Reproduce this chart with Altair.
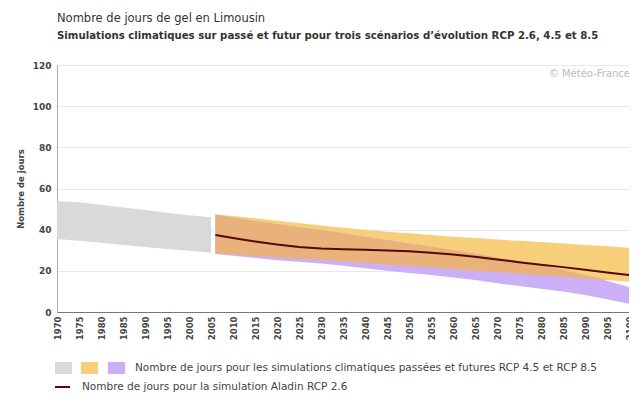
import altair as alt
import pandas as pd

# ---------------- data ----------------
hist_years = [1970, 1975, 1980, 1985, 1990, 1995, 2000, 2005]
hist_low = [35.5, 34.6, 33.6, 32.6, 31.6, 30.6, 29.7, 28.8]
hist_high = [53.8, 53.3, 52.1, 50.8, 49.5, 48.2, 47.0, 46.0]

fut_years = [2006, 2010, 2015, 2020, 2025, 2030, 2035, 2040, 2045, 2050,
             2055, 2060, 2065, 2070, 2075, 2080, 2085, 2090, 2095, 2100]
rcp45_high = [47.5, 46.6, 45.5, 44.3, 43.2, 42.0, 40.9, 39.9, 39.0, 38.2,
              37.4, 36.6, 35.9, 35.2, 34.6, 34.0, 33.3, 32.6, 31.9, 31.2]
rcp45_low = [28.5, 27.9, 27.2, 26.6, 26.0, 25.4, 24.6, 23.9, 23.1, 22.4,
             21.6, 20.9, 20.1, 19.4, 18.6, 17.9, 17.1, 16.3, 15.5, 14.7]
rcp85_high = [47.2, 45.8, 44.2, 42.6, 41.2, 39.8, 38.2, 36.6, 35.0, 33.3,
              31.7, 30.0, 28.3, 26.5, 24.6, 22.6, 20.4, 18.0, 15.2, 12.2]
rcp85_low = [28.2, 27.3, 26.2, 25.2, 24.4, 23.6, 22.5, 21.3, 20.1, 19.0,
             18.0, 16.8, 15.5, 14.0, 12.6, 11.3, 9.9, 8.3, 6.2, 4.0]
aladin26 = [37.4, 36.0, 34.3, 32.8, 31.6, 30.9, 30.5, 30.2, 29.9, 29.5,
            28.8, 27.9, 26.8, 25.5, 24.2, 23.0, 21.8, 20.5, 19.2, 18.0]

x_ticks = list(range(1970, 2101, 5))
y_ticks = [0, 20, 40, 60, 80, 100, 120]

title_text = "Nombre de jours de gel en Limousin"
subtitle_text = ("Simulations climatiques sur passé et futur pour trois scénarios "
                 "d’évolution RCP 2.6, 4.5 et 8.5")
y_title = "Nombre de jours"
credit = "© Météo-France"
legend_band_label = ("Nombre de jours pour les simulations climatiques passées et "
                     "futures RCP 4.5 et RCP 8.5")
legend_line_label = "Nombre de jours pour la simulation Aladin RCP 2.6"

# ---------------- tables ----------------
hist = pd.DataFrame({"year": hist_years, "low": hist_low, "high": hist_high})
y45 = pd.DataFrame({"year": fut_years, "low": rcp45_low, "high": rcp45_high})
y85 = pd.DataFrame({"year": fut_years, "low": rcp85_low, "high": rcp85_high})
ov_low = [max(a, b) for a, b in zip(rcp45_low, rcp85_low)]
ov_high = [max(min(a, b), lo) for a, b, lo in zip(rcp45_high, rcp85_high, ov_low)]
ovl = pd.DataFrame({"year": fut_years, "low": ov_low, "high": ov_high})
line_df = pd.DataFrame({"year": fut_years, "low": aladin26})

W, H = 572, 247
FONT = "DejaVu Sans"

xscale = alt.Scale(domain=[1970, 2100], nice=False, zero=False)
yscale = alt.Scale(domain=[0, 120], nice=False)

x_axis = alt.Axis(values=x_ticks, format="d", labelAngle=270, labelFontSize=8.5,
                  labelFontWeight="bold", labelColor="#444", labelFont=FONT,
                  grid=False, ticks=False, domainColor="#777", labelPadding=4,
                  title=None, labelFlush=False, labelOverlap=False)
y_axis = alt.Axis(values=y_ticks, grid=True, gridColor="#e8e8e8", ticks=False,
                  domainColor="#aaa", labelFontSize=9, labelFontWeight="bold",
                  labelColor="#444", labelFont=FONT, labelPadding=6,
                  title=y_title, titleFontSize=8.5, titleFontWeight="bold",
                  titleColor="#444", titleFont=FONT, titlePadding=7)

X = alt.X("year:Q", scale=xscale, axis=x_axis)
Y = alt.Y("low:Q", scale=yscale, axis=y_axis)
Y2 = alt.Y2("high:Q")


def band(df, color):
    return alt.Chart(df).mark_area(color=color, opacity=1, interpolate="linear").encode(
        x=X, y=Y, y2=Y2)


gray = band(hist, "#d9d9d9")
yellow = band(y45, "#f7cf7a")
purple = band(y85, "#cbb0f5")
overlap = band(ovl, "#e8b27a")
line = alt.Chart(line_df).mark_line(color="#560808", strokeWidth=2).encode(x=X, y=Y)

# watermark
wm = alt.Chart(pd.DataFrame({"t": [credit]})).mark_text(
    align="right", baseline="middle", fontSize=10, color="#bbbbbb", font=FONT
).encode(x=alt.value(W + 1), y=alt.value(9), text="t:N")

# custom legend
sw_df = pd.DataFrame({"c": ["#d9d9d9", "#f7cf7a", "#cbb0f5"],
                      "x0": [-2, 24, 51], "x1": [15, 41, 68]})
swatches = alt.layer(*[
    alt.Chart(pd.DataFrame({"c": [c]})).mark_rect(color=c).encode(
        x=alt.value(x0), x2=alt.value(x1), y=alt.value(297), y2=alt.value(309))
    for c, x0, x1 in zip(sw_df["c"], sw_df["x0"], sw_df["x1"])
])
leg_t1 = alt.Chart(pd.DataFrame({"t": [legend_band_label]})).mark_text(
    align="left", baseline="middle", fontSize=10.5, color="#444", font=FONT
).encode(x=alt.value(78), y=alt.value(303), text="t:N")
leg_line = alt.Chart(pd.DataFrame({"t": ["l"]})).mark_rule(
    color="#560808", strokeWidth=2).encode(
    x=alt.value(-2), x2=alt.value(13), y=alt.value(322))
leg_t2 = alt.Chart(pd.DataFrame({"t": [legend_line_label]})).mark_text(
    align="left", baseline="middle", fontSize=10.5, color="#444", font=FONT
).encode(x=alt.value(25), y=alt.value(322), text="t:N")

chart = alt.layer(
    gray, yellow, purple, overlap, line, wm, swatches, leg_t1, leg_line, leg_t2
).properties(
    width=W, height=H,
    title=alt.Title(text=title_text, subtitle=subtitle_text, anchor="start",
                    frame="group", fontSize=11.5, fontWeight="normal", font=FONT,
                    color="#333", subtitleFontSize=10.2, subtitleFontWeight="bold",
                    subtitleFont=FONT, subtitleColor="#333", subtitlePadding=6,
                    offset=20),
    autosize=alt.AutoSizeParams(type="none"),
    padding={"left": 49, "top": 57, "right": 0, "bottom": 80},
).configure_view(stroke=None).configure(background="white")

chart.save("out.html", embed_options={"renderer": "svg", "actions": False})
